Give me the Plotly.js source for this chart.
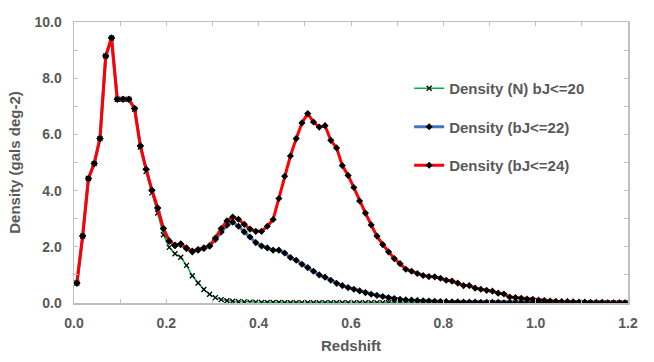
<!DOCTYPE html>
<html>
<head>
<meta charset="utf-8">
<script src="https://cdn.plot.ly/plotly-3.0.1.min.js"></script>
<style>
  html, body { margin: 0; padding: 0; background: #fff; }
  #chart { width: 654px; height: 362px; }
</style>
</head>
<body>
<div id="chart"></div>
<script>
// redshift bin centres
var redshift = [
  0.00625, 0.01875, 0.03125, 0.04375, 0.05625, 0.06875, 0.08125, 0.09375, 0.10625, 0.11875,
  0.13125, 0.14375, 0.15625, 0.16875, 0.18125, 0.19375, 0.20625, 0.21875, 0.23125, 0.24375,
  0.25625, 0.26875, 0.28125, 0.29375, 0.30625, 0.31875, 0.33125, 0.34375, 0.35625, 0.36875,
  0.38125, 0.39375, 0.40625, 0.41875, 0.43125, 0.44375, 0.45625, 0.46875, 0.48125, 0.49375,
  0.50625, 0.51875, 0.53125, 0.54375, 0.55625, 0.56875, 0.58125, 0.59375, 0.60625, 0.61875,
  0.63125, 0.64375, 0.65625, 0.66875, 0.68125, 0.69375, 0.70625, 0.71875, 0.73125, 0.74375,
  0.75625, 0.76875, 0.78125, 0.79375, 0.80625, 0.81875, 0.83125, 0.84375, 0.85625, 0.86875,
  0.88125, 0.89375, 0.90625, 0.91875, 0.93125, 0.94375, 0.95625, 0.96875, 0.98125, 0.99375,
  1.00625, 1.01875, 1.03125, 1.04375, 1.05625, 1.06875, 1.08125, 1.09375, 1.10625, 1.11875,
  1.13125, 1.14375, 1.15625, 1.16875, 1.18125, 1.19375
];

var densityN20 = [
  0.71, 2.38, 4.43, 4.96, 5.85, 8.79, 9.43, 7.25, 7.25, 7.25,
  6.90, 5.55, 4.68, 3.92, 3.20, 2.43, 1.98, 1.75, 1.63, 1.34,
  0.97, 0.71, 0.48, 0.31, 0.19, 0.12, 0.08, 0.06, 0.05, 0.04,
  0.03, 0.03, 0.02, 0.02, 0.02, 0.02, 0.01, 0.01, 0.01, 0.01,
  0.01, 0.01, 0.01, 0.01, 0.01, 0.01, 0.01, 0.01, 0.01, 0.01,
  0.01, 0.01, 0.01, 0.01, 0.01, 0.01, 0.01, 0.01, 0.01, 0.01,
  0.01, 0.00, 0.00, 0.00, 0.00, 0.00, 0.00, 0.00, 0.00, 0.00,
  0.00, 0.00, 0.00, 0.00, 0.00, 0.00, 0.00, 0.00, 0.00, 0.00,
  0.00, 0.00, 0.00, 0.00, 0.00, 0.00, 0.00, 0.00, 0.00, 0.00,
  0.00, 0.00, 0.00, 0.00, 0.00, 0.00
];

var density22 = [
  0.71, 2.38, 4.43, 4.96, 5.85, 8.79, 9.43, 7.25, 7.25, 7.25,
  6.92, 5.59, 4.76, 4.01, 3.38, 2.65, 2.20, 2.04, 2.08, 1.93,
  1.82, 1.88, 1.94, 2.02, 2.26, 2.53, 2.77, 2.88, 2.73, 2.53,
  2.35, 2.15, 2.03, 1.96, 1.88, 1.88, 1.78, 1.62, 1.52, 1.38,
  1.26, 1.13, 1.00, 0.92, 0.81, 0.70, 0.62, 0.55, 0.49, 0.43,
  0.37, 0.31, 0.27, 0.23, 0.19, 0.16, 0.13, 0.11, 0.10, 0.09,
  0.08, 0.07, 0.06, 0.05, 0.05, 0.04, 0.04, 0.03, 0.03, 0.03,
  0.02, 0.02, 0.02, 0.02, 0.01, 0.01, 0.01, 0.01, 0.01, 0.01,
  0.01, 0.01, 0.01, 0.01, 0.01, 0.01, 0.01, 0.01, 0.01, 0.01,
  0.00, 0.00, 0.00, 0.00, 0.00, 0.00
];

var density24 = [
  0.71, 2.38, 4.43, 4.96, 5.85, 8.79, 9.43, 7.25, 7.25, 7.25,
  6.92, 5.59, 4.76, 4.01, 3.38, 2.65, 2.21, 2.06, 2.11, 1.96,
  1.85, 1.90, 1.96, 2.04, 2.31, 2.65, 2.92, 3.06, 2.98, 2.80,
  2.63, 2.55, 2.55, 2.73, 2.97, 3.72, 4.51, 5.23, 5.85, 6.41,
  6.74, 6.44, 6.26, 6.31, 5.79, 5.52, 4.89, 4.54, 4.11, 3.63,
  3.20, 2.78, 2.38, 2.08, 1.82, 1.58, 1.40, 1.20, 1.13, 1.05,
  0.98, 0.94, 0.93, 0.88, 0.81, 0.78, 0.71, 0.62, 0.62, 0.53,
  0.49, 0.45, 0.42, 0.35, 0.32, 0.21, 0.19, 0.17, 0.14, 0.13,
  0.10, 0.09, 0.07, 0.06, 0.05, 0.05, 0.04, 0.03, 0.03, 0.02,
  0.02, 0.02, 0.01, 0.01, 0.01, 0.01
];

var grey = '#595959';
var axisGrey = '#BFBFBF';
var fontFam = 'Liberation Sans, Arial, sans-serif';

var traceN20 = {
  x: redshift, y: densityN20,
  type: 'scatter', mode: 'lines+markers',
  name: 'Density (N) bJ<=20', legendgroup: 'a',
  line: {color: '#00B050', width: 1.5},
  marker: {symbol: 'x-thin', size: 5, color: '#000', line: {color: '#000', width: 1.3}}
};

var trace22 = {
  x: redshift, y: density22,
  type: 'scatter', mode: 'lines+markers',
  name: 'Density (bJ<=22)', legendgroup: 'b',
  line: {color: '#4472C4', width: 3},
  marker: {symbol: 'diamond', size: 5.5, color: '#000'}
};

var trace24 = {
  x: redshift, y: density24,
  type: 'scatter', mode: 'lines+markers',
  name: 'Density (bJ<=24)', legendgroup: 'c',
  line: {color: '#FF0000', width: 3},
  marker: {symbol: 'diamond', size: 5.5, color: '#000'}
};

var data = [traceN20, trace22, trace24];

var layout = {
  width: 654, height: 362,
  margin: {l: 74, r: 26, t: 22, b: 59},
  paper_bgcolor: '#fff', plot_bgcolor: '#fff',
  font: {family: fontFam, color: grey, size: 14, weight: 'bold'},
  showlegend: true,
  legend: {
    x: 0.605, xanchor: 'left', y: 0.822, yanchor: 'top',
    font: {family: fontFam, size: 15, color: grey, weight: 'bold'},
    tracegroupgap: 16, bgcolor: 'rgba(0,0,0,0)'
  },
  xaxis: {
    range: [0, 1.2], tick0: 0, dtick: 0.2, tickformat: '.1f',
    ticks: 'inside', ticklen: 4, tickcolor: axisGrey, tickwidth: 1,
    showline: true, linecolor: axisGrey, linewidth: 1.5, mirror: 'ticks',
    showgrid: false, zeroline: false,
    minor: {dtick: 0.1, ticks: 'inside', ticklen: 4, tickcolor: axisGrey, showgrid: false},
    tickfont: {family: fontFam, size: 14, color: grey, weight: 'bold'},
    ticklabelstandoff: 7,
    title: {text: 'Redshift', font: {family: fontFam, size: 15, color: grey, weight: 'bold'}, standoff: 10}
  },
  yaxis: {
    range: [0, 10], tick0: 0, dtick: 2, tickformat: '.1f',
    ticks: 'inside', ticklen: 4, tickcolor: axisGrey, tickwidth: 1,
    showline: true, linecolor: axisGrey, linewidth: 1.5, mirror: 'ticks',
    showgrid: false, zeroline: false,
    minor: {dtick: 1, ticks: 'inside', ticklen: 4, tickcolor: axisGrey, showgrid: false},
    tickfont: {family: fontFam, size: 14, color: grey, weight: 'bold'},
    ticklabelstandoff: 8,
    title: {text: 'Density (gals deg-2)', font: {family: fontFam, size: 15, color: grey, weight: 'bold'}, standoff: 10}
  }
};

Plotly.newPlot('chart', data, layout, {displayModeBar: false, staticPlot: true});
</script>
</body>
</html>
